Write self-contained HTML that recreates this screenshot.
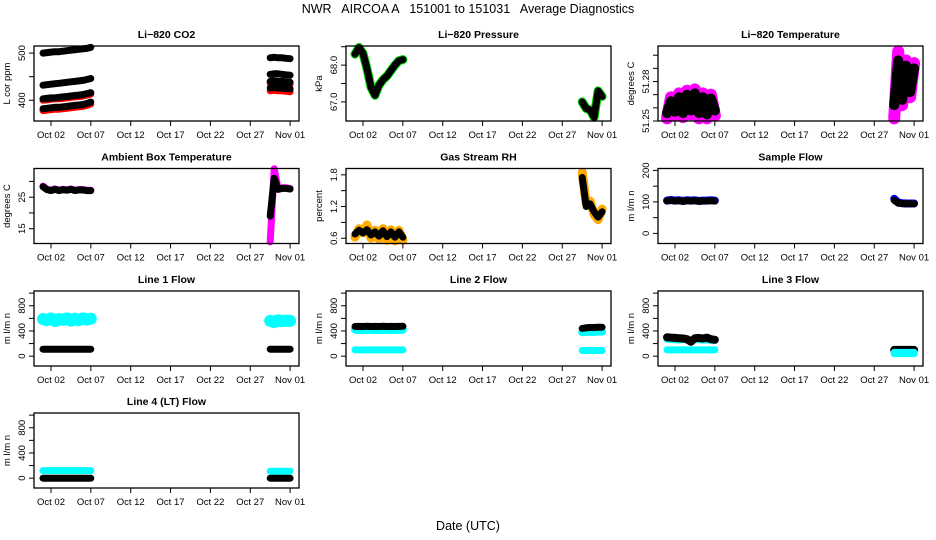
<!DOCTYPE html>
<html><head><meta charset="utf-8">
<style>
html,body{margin:0;padding:0;background:#fff;}
svg{display:block;font-family:"Liberation Sans",sans-serif;}
</style></head>
<body>
<svg id="chart" width="936" height="540" viewBox="0 0 936 540" xmlns="http://www.w3.org/2000/svg">
<text x="468" y="13" font-size="12.5" text-anchor="middle" style="white-space:pre">NWR   AIRCOA A   151001 to 151031   Average Diagnostics</text>
<text x="468" y="530" font-size="12.5" text-anchor="middle">Date (UTC)</text>
</svg>
<script>
// shared time arrays (day of October; Nov 01 = 32)
const T1 = [1.0,1.5,2.0,2.5,3.0,3.5,4.0,4.5,5.0,5.5,6.0,6.5,7.0];
const T2 = [29.5,30.0,30.5,31.0,31.5,32.0];
const xTickDays = [2,7,12,17,22,27,32];
const xTickLabels = ["Oct 02","Oct 07","Oct 12","Oct 17","Oct 22","Oct 27","Nov 01"];

// panel titles, y labels, y domains and ticks
const titles = ["Li\u2212820 CO2","Li\u2212820 Pressure","Li\u2212820 Temperature","Ambient Box Temperature","Gas Stream RH","Sample Flow","Line 1 Flow","Line 2 Flow","Line 3 Flow","Line 4 (LT) Flow"];
const yLabels = ["L cor ppm","kPa","degrees C","degrees C","percent","m l/m n","m l/m n","m l/m n","m l/m n","m l/m n"];
const yMin = [356,66.48,51.25,10.3,0.5,-32,-156,-156,-156,-156];
const yMax = [515,68.52,51.307,34.1,1.92,206,1034,1034,1034,1034];
const yTicks = [[400,450,500],[67.0,67.5,68.0,68.5],[51.25,51.26,51.27,51.28,51.29,51.30],[15,20,25,30],[0.6,0.9,1.2,1.5,1.8],[0,50,100,150,200],[0,200,400,600,800,1000],[0,200,400,600,800,1000],[0,200,400,600,800,1000],[0,200,400,600,800,1000]];
const yTickLabels = [["400","","500"],["67.0","","68.0",""],["51.25","","","51.28","",""],["15","","25",""],["0.6","","1.2","","1.8"],["0","","100","","200"],["0","","400","","800",""],["0","","400","","800",""],["0","","400","","800",""],["0","","400","","800",""]];

// series values: first 13 values on T1, last 6 on T2
const co2A = [500,501,502,503,503,504,505,506,507,508,509,510,512, 490,491,490,490,489,488];
const co2B = [432,433,434,435,436,437,438,439,440,441,442,444,446, 455,456,456,455,454,453];
const co2C = [403,404,405,405,406,407,408,409,410,411,412,414,416, 440,441,440,440,439,438];
const co2D = [382,383,384,385,385,386,387,388,389,390,391,393,396, 426,427,426,426,425,424];
const co2R1 = [400,401,402,403,403,404,405,406,407,408,409,411,413, 436,437,436,436,435,434];
const co2R2 = [378,379,380,381,381,382,383,384,385,386,387,389,392, 420,421,420,420,419,418];
const presG = [68.3,68.48,68.32,67.9,67.4,67.18,67.45,67.6,67.7,67.85,68.0,68.12,68.15, 67.0,66.82,66.78,66.58,67.3,67.15];
const presK = [68.3,68.48,68.32,67.9,67.4,67.18,67.45,67.6,67.7,67.85,68.0,68.12,68.15, 67.0,66.82,66.78,66.58,67.3,67.15];
const tempM = [51.252,51.268,51.254,51.271,51.253,51.273,51.255,51.274,51.252,51.271,51.252,51.270,51.254, 51.252,51.303,51.262,51.296,51.268,51.294];
const tempK = [51.256,51.265,51.257,51.268,51.256,51.270,51.258,51.271,51.256,51.268,51.255,51.267,51.258, 51.262,51.296,51.266,51.292,51.272,51.290];
const ambM = [28.5,27.5,27.2,27.6,27.2,27.5,27.3,27.6,27.2,27.4,27.4,27.2,27.2, 10.8,34,27.5,28,28,27.8];
const ambK = [28.3,27.4,27.1,27.5,27.1,27.4,27.2,27.5,27.1,27.3,27.3,27.1,27.1, 19,31,27.5,27.8,27.8,27.6];
const rhY = [0.62,0.78,0.70,0.85,0.60,0.75,0.58,0.78,0.56,0.76,0.55,0.75,0.56, 1.85,1.25,1.30,1.05,0.95,1.15];
const rhK = [0.68,0.75,0.70,0.76,0.66,0.72,0.64,0.74,0.63,0.72,0.62,0.72,0.62, 1.75,1.20,1.25,1.10,1.00,1.10];
const sfB = [104,106,104,105,103,105,104,105,103,104,104,105,104, 110,98,96,95,95,95];
const sfK = [103,105,103,104,102,104,103,104,102,103,103,104,103, 105,96,95,94,94,94];
const l1C = [590,570,600,560,590,575,600,565,595,570,600,580,595, 560,540,570,555,565,560];
const l1K = [110,110,110,110,110,110,110,110,110,110,110,110,110, 110,110,110,110,110,110];
const l2C1 = [420,415,420,415,420,415,420,415,420,415,420,415,420, 380,385,385,385,390,390];
const l2K = [470,472,470,474,470,472,470,474,470,472,470,472,474, 440,450,455,455,460,460];
const l2C2 = [100,100,100,100,100,100,100,100,100,100,100,100,100, 90,90,90,90,90,90];
const l3C1 = [270,265,260,255,265,255,250,265,260,255,260,250,250, 40,40,40,40,40,40];
const l3K = [300,295,290,285,280,270,230,285,290,280,295,270,260, 100,100,100,100,100,100];
const l3C2 = [100,100,100,100,100,100,100,100,100,100,100,100,100, 60,60,60,60,60,60];
const l4C = [120,120,120,120,120,120,120,120,120,120,120,120,120, 110,110,110,110,110,110];
const l4K = [0,0,0,0,0,0,0,0,0,0,0,0,0, 0,0,0,0,0,0];

const seriesByPanel = [
  [[co2R1,"#ff0000",7],[co2R2,"#ff0000",7],[co2A,"#000",7],[co2B,"#000",7],[co2C,"#000",7],[co2D,"#000",7]],
  [[presG,"#00dd00",9],[presK,"#000",7]],
  [[tempM,"#ff00ff",12],[tempK,"#000",10]],
  [[ambM,"#ff00ff",7],[ambK,"#000",7]],
  [[rhY,"#ffaa00",9],[rhK,"#000",7]],
  [[sfB,"#0000ff",8],[sfK,"#000",7]],
  [[l1C,"#00ffff",12],[l1K,"#000",7]],
  [[l2C1,"#00ffff",8],[l2K,"#000",7],[l2C2,"#00ffff",7]],
  [[l3C1,"#00ffff",7],[l3K,"#000",8],[l3C2,"#00ffff",7]],
  [[l4C,"#00ffff",7],[l4K,"#000",7]]
];

const svg = document.getElementById('chart');
const NS = "http://www.w3.org/2000/svg";
const colX = [34,346,658], rowY = [46,168.5,291,413], PW = 265, PH = 75;
function mk(tag, attrs){const e=document.createElementNS(NS,tag);for(const k in attrs)e.setAttribute(k,attrs[k]);return e;}

for(let p=0;p<10;p++){
  const x0 = colX[p%3], y0 = rowY[Math.floor(p/3)];
  const xs = d => x0 + 17 + (d-2)*7.97;
  const ys = v => y0 + PH - (v - yMin[p])/(yMax[p]-yMin[p])*PH;
  const g = mk('g',{});
  
  
  svg.appendChild(g);
  const t = mk('text',{x:x0+PW/2,y:y0-8,'font-size':10.5,'text-anchor':'middle','font-weight':'bold'});
  
  
  t.textContent = titles[p]; g.appendChild(t);
  const yl = mk('text',{x:0,y:0,'font-size':9.5,'text-anchor':'middle',transform:`translate(${x0-24},${y0+PH/2}) rotate(-90)`});
  
  
  yl.textContent = yLabels[p]; g.appendChild(yl);
  seriesByPanel[p].forEach(s=>{
    const vals = s[0];
    [[T1,0],[T2,13]].forEach(seg=>{
      const T = seg[0], off = seg[1];
      const pts = T.map((d,i)=>xs(d).toFixed(1)+','+ys(vals[off+i]).toFixed(1)).join(' ');
      const pl = mk('polyline',{points:pts,fill:'none',stroke:s[1],'stroke-width':s[2],'stroke-linejoin':'round','stroke-linecap':'round'});
      
      
      g.appendChild(pl);
    });
  });
  const r = mk('rect',{x:x0,y:y0,width:PW,height:PH,fill:'none',stroke:'#000','stroke-width':1.3});
  
  
  g.appendChild(r);
  xTickDays.forEach((d,i)=>{
    const x = xs(d);
    g.appendChild(mk('line',{x1:x,y1:y0+PH,x2:x,y2:y0+PH+5,stroke:'#000'}));
    const tl = mk('text',{x:x,y:y0+PH+17,'font-size':9.5,'text-anchor':'middle'});
    
    
    tl.textContent = xTickLabels[i]; g.appendChild(tl);
  });
  yTicks[p].forEach((v,i)=>{
    const y = ys(v);
    if(y < y0-1 || y > y0+PH+1) return;
    g.appendChild(mk('line',{x1:x0-5,y1:y,x2:x0,y2:y,stroke:'#000'}));
    if(yTickLabels[p][i]){
      const tl = mk('text',{x:0,y:0,'font-size':9.5,'text-anchor':'middle',transform:`translate(${x0-9},${y}) rotate(-90)`});
      
      
      tl.textContent = yTickLabels[p][i]; g.appendChild(tl);
    }
  });
}
</script>
</body></html>
